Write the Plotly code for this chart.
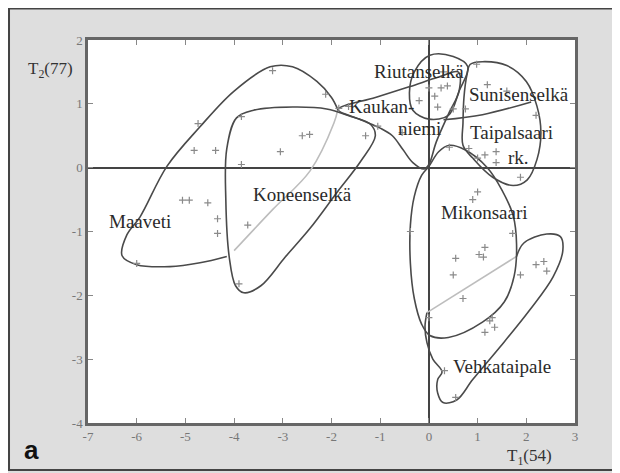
import plotly.graph_objects as go

# ---------------- data ----------------
x_tick_vals = [-7, -6, -5, -4, -3, -2, -1, 0, 1, 2, 3]
x_tick_text = ["-7", "-6", "-5", "-4", "-3", "-2", "-1", "0", "1", "2", "3"]
y_tick_vals = [2, 1, 0, -1, -2, -3, -4]
y_tick_text = ["2", "1", "0", "-1", "-2", "-3", "-4"]

# sample scores (T1, T2)
pts_x = [-3.21, -2.12, -4.74, -4.82, -4.38, -5.06, -4.92, -4.54, -4.34, -4.34, -6.0,
         -3.85, -2.6, -2.45, -3.05, -3.85, -1.3, -3.72, -3.9,
         -1.85, -1.65, -1.05, -0.55,
         0.0, 0.12, 0.25, 0.38, 0.5, 0.18, -0.2, 0.3,
         0.98, 0.75, 0.82, 1.0, 1.38, 1.38, 1.15, 1.88, 2.2, 0.42, 1.2, 1.6,
         1.0, 0.9, 1.72, 1.15, 1.03, 1.12, 0.55, 0.5, -0.38, 0.7, 0.0,
         1.88, 2.2, 2.36, 2.42, 1.25, 1.35, 1.15, 1.3, 0.55, 0.32]
pts_y = [1.52, 1.15, 0.69, 0.27, 0.27, -0.51, -0.51, -0.55, -0.8, -1.03, -1.5,
         0.8, 0.5, 0.52, 0.25, 0.05, 0.5, -0.9, -1.82,
         0.93, 0.96, 0.65, 0.55,
         1.25, 1.12, 1.25, 1.28, 0.92, 0.95, 1.05, 1.5,
         1.62, 0.92, 0.3, 0.15, 0.25, 0.08, 0.2, -0.15, 0.82, 0.32, 1.3, 1.2,
         -0.38, -0.5, -1.03, -1.25, -1.36, -1.4, -1.42, -1.68, -1.0, -2.05, -2.35,
         -1.68, -1.52, -1.47, -1.62, -2.4, -2.5, -2.58, -2.35, -3.6, -3.18]

# group outlines
maaveti_x = [-4.15, -4.7, -5.32, -6.0, -6.3, -6.2, -5.93, -5.38, -4.7, -4.0, -3.26, -2.8, -2.3, -2.0, -1.87]
maaveti_y = [-1.39, -1.49, -1.55, -1.52, -1.38, -1.05, -0.77, 0.02, 0.64, 1.2, 1.58, 1.58, 1.35, 1.1, 0.91]
maaveti_inner_x = [-1.87, -1.95, -2.44, -3.2, -4.0]
maaveti_inner_y = [0.91, 0.7, -0.05, -0.65, -1.3]

koneen_x = [-4.15, -3.95, -3.6, -2.8, -2.1, -1.6, -1.2, -1.1, -1.4, -1.9, -2.44, -2.95, -3.45, -3.8, -3.97, -4.1, -4.17, -4.15]
koneen_y = [0.3, 0.78, 0.9, 0.95, 0.92, 0.8, 0.68, 0.5, 0.1, -0.4, -0.95, -1.4, -1.85, -1.96, -1.85, -1.4, -0.5, 0.3]

kaukan_x = [-1.87, -1.1, -0.39, 0.2, 0.6, 0.62, 0.42, 0.15, 0.0, -0.1, -0.33, -0.53, -0.75, -1.0, -1.4, -1.87]
kaukan_y = [0.91, 1.1, 1.27, 1.42, 1.5, 1.2, 0.87, 0.4, 0.05, -0.02, 0.08, 0.28, 0.5, 0.62, 0.75, 0.91]

riutan_x = [0.02, 0.5, 0.8, 0.62, 0.4, 0.0, -0.33, -0.4, -0.3, 0.02]
riutan_y = [1.76, 1.74, 1.58, 1.2, 0.82, 0.76, 0.9, 1.17, 1.5, 1.76]

sunisen_x = [0.3, 1.1, 2.1]
sunisen_y = [0.75, 0.83, 1.03]

taipal_x = [0.85, 1.1, 1.6, 2.0, 2.22, 2.3, 2.22, 2.02, 1.73, 1.31, 0.9, 0.7, 0.7, 0.72, 0.78, 0.85]
taipal_y = [1.62, 1.66, 1.6, 1.35, 0.96, 0.55, 0.13, -0.19, -0.28, -0.15, 0.15, 0.35, 0.7, 1.1, 1.45, 1.62]

mikon_x = [0.0, 0.2, 0.42, 0.74, 1.2, 1.5, 1.73, 1.8, 1.75, 1.55, 1.1, 0.4, 0.02, -0.15, -0.3, -0.38, -0.38, -0.3, -0.15, 0.0]
mikon_y = [0.02, 0.25, 0.35, 0.28, 0.0, -0.35, -0.75, -1.2, -1.7, -2.1, -2.42, -2.66, -2.63, -2.45, -2.05, -1.5, -0.9, -0.45, -0.12, 0.02]

vehka_x = [1.8, 1.95, 2.42, 2.7, 2.75, 2.55, 2.07, 1.46, 0.9, 0.57, 0.29, 0.18, 0.18, 0.27, 0.08, -0.04, -0.08, -0.04]
vehka_y = [-1.39, -1.18, -1.04, -1.08, -1.3, -1.71, -2.23, -2.81, -3.32, -3.64, -3.68, -3.53, -3.32, -3.2, -3.0, -2.74, -2.49, -2.27]
vehka_inner_x = [-0.04, 1.8]
vehka_inner_y = [-2.27, -1.39]

group_labels = ["Maaveti", "Koneenselkä", "Kaukan-", "niemi", "Riutanselkä", "Sunisenselkä",
                "Taipalsaari", "rk.", "Mikonsaari", "Vehkataipale"]
label_x = [-5.93, -2.6, -0.98, -0.2, -0.2, 1.85, 1.7, 1.83, 1.15, 1.5]
label_y = [-0.85, -0.42, 0.96, 0.62, 1.5, 1.14, 0.55, 0.16, -0.71, -3.12]

# ---------------- figure ----------------
DARK = "#4a4a4a"
LIGHT = "#bdbdbd"
fig = go.Figure()


def outline(xs, ys, color=DARK, width=1.6):
    fig.add_trace(go.Scatter(x=xs, y=ys, mode="lines",
                             line=dict(color=color, width=width, shape="spline", smoothing=1.0),
                             hoverinfo="skip", showlegend=False))


outline(maaveti_inner_x, maaveti_inner_y, LIGHT, 1.6)
outline(vehka_inner_x, vehka_inner_y, LIGHT, 1.6)
outline(maaveti_x, maaveti_y)
outline(koneen_x, koneen_y)
outline(kaukan_x, kaukan_y)
outline(riutan_x, riutan_y)
outline(sunisen_x, sunisen_y)
outline(taipal_x, taipal_y)
outline(mikon_x, mikon_y)
outline(vehka_x, vehka_y)

fig.add_trace(go.Scatter(x=pts_x, y=pts_y, mode="markers",
                         marker=dict(symbol="cross-thin", size=5, line=dict(color="#8a8a8a", width=1.2)),
                         showlegend=False, hoverinfo="skip"))

for t, lx, ly in zip(group_labels, label_x, label_y):
    fig.add_annotation(x=lx, y=ly, text=t, showarrow=False, xanchor="center", yanchor="middle",
                       font=dict(family="Liberation Serif", size=19, color="#2a2a2a"))

# axis titles
fig.add_annotation(xref="paper", yref="paper", x=-0.078, y=0.922, text="T<sub>2</sub>(77)",
                   xanchor="center", yanchor="middle",
                   showarrow=False, font=dict(family="Liberation Serif", size=17, color="#333"))
fig.add_annotation(xref="paper", yref="paper", x=0.906, y=-0.089, text="T<sub>1</sub>(54)",
                   xanchor="center", yanchor="middle",
                   showarrow=False, font=dict(family="Liberation Serif", size=17, color="#333"))
# panel letter
fig.add_annotation(xref="paper", yref="paper", x=-0.117, y=-0.071, text="<b>a</b>",
                   xanchor="center", yanchor="middle",
                   showarrow=False, font=dict(family="Liberation Sans", size=26, color="#111"))

# outer frame
fig.add_shape(type="rect", xref="paper", yref="paper", x0=-0.1622, x1=1.0842, y0=-0.1227, y1=1.0822,
              line=dict(color="#444", width=2), fillcolor="rgba(0,0,0,0)", layer="below")

axis_common = dict(showgrid=False, zeroline=True, zerolinecolor="#444", zerolinewidth=1.6,
                   showline=True, linecolor="#666", linewidth=2.5, mirror="ticks",
                   ticks="inside", ticklen=5, tickcolor="#888", tickwidth=1,
                   tickfont=dict(family="Liberation Serif", size=13, color="#777"))

fig.update_xaxes(range=[-7, 3], tickvals=x_tick_vals, ticktext=x_tick_text, **axis_common)
fig.update_yaxes(range=[-4, 2], tickvals=y_tick_vals, ticktext=y_tick_text, **axis_common)

# the page adds an 8 px body margin, so the figure is sized/positioned to compensate
fig.update_layout(width=612, height=465,
                  margin=dict(l=80, r=45, t=32, b=50),
                  paper_bgcolor="#dedede", plot_bgcolor="white",
                  showlegend=False)

fig.write_html("out.html")
